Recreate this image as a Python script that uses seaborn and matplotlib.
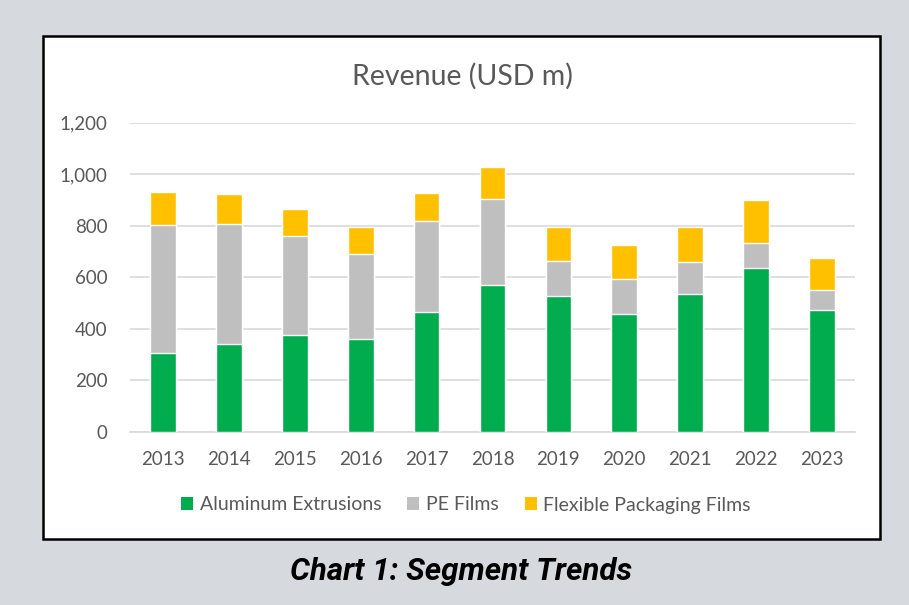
import numpy as np
import pandas as pd
import matplotlib.pyplot as plt
import seaborn as sns
from matplotlib.patches import Rectangle, Patch

# ---------------------------------------------------------
# DATA (USD m)
# ---------------------------------------------------------
years = ["2013", "2014", "2015", "2016", "2017", "2018",
         "2019", "2020", "2021", "2022", "2023"]
aluminum = [308, 341, 376, 359, 467, 572, 529, 456, 537, 636, 472]
pe_films = [495, 467, 383, 331, 351, 331, 133, 136, 124, 98, 79]
flex_films = [129, 115, 107, 107, 110, 124, 135, 135, 136, 165, 124]

series_names = ["Aluminum Extrusions", "PE Films", "Flexible Packaging Films"]
colors = ["#00ac4e", "#bfbfbf", "#ffc000"]
yticks = [0, 200, 400, 600, 800, 1000, 1200]

df = pd.DataFrame({
    "year": years,
    "aluminum": aluminum,
    "pe": pe_films,
    "flex": flex_films,
})
# cumulative heights for stacking (draw back to front)
df["lvl1"] = df["aluminum"]
df["lvl2"] = df["aluminum"] + df["pe"]
df["lvl3"] = df["lvl2"] + df["flex"]

sns.set_theme(style="white")
plt.rcParams["font.family"] = ["Lato", "DejaVu Sans"]

fig = plt.figure(figsize=(9.09, 6.05), dpi=100)
fig.patch.set_facecolor("#d6d9de")

# white card with black frame
fig.patches.append(Rectangle((43 / 909, 1 - 539 / 605), (880 - 43) / 909, (539 - 35.5) / 605,
                             transform=fig.transFigure, facecolor="white",
                             edgecolor="black", linewidth=1.8, zorder=-10))

ax = fig.add_axes([130 / 909, 1 - 432 / 605, (855 - 130) / 909, (432 - 122.7) / 605])
ax.set_facecolor("none")

for col, c in zip(["lvl3", "lvl2", "lvl1"], colors[::-1]):
    sns.barplot(data=df, x="year", y=col, color=c, width=0.39,
                saturation=1, ax=ax, zorder=3)

ax.set_ylim(0, 1200)
ax.set_xlim(-0.5, len(years) - 0.5)
ax.set_yticks(yticks)
ax.set_yticklabels([f"{v:,}" for v in yticks])
ax.yaxis.grid(True, color="#d9d9d9", linewidth=1.2, zorder=0)
ax.set_axisbelow(True)
for s in ["top", "right", "left"]:
    ax.spines[s].set_visible(False)
ax.spines["bottom"].set_color("#d9d9d9")
ax.spines["bottom"].set_linewidth(1.2)
ax.tick_params(axis="both", length=0, labelsize=13.5, labelcolor="#595959")
ax.tick_params(axis="y", pad=16)
ax.tick_params(axis="x", pad=14)
ax.set_xlabel("")
ax.set_ylabel("")

fig.text(462 / 909, 1 - 76 / 605, "Revenue (USD m)", ha="center", va="center",
         fontsize=20.5, color="#595959")

handles = [Patch(facecolor=c, edgecolor="none") for c in colors]
fig.legend(handles, series_names, loc="center", bbox_to_anchor=(466 / 909, 1 - 505 / 605),
           ncol=3, frameon=False, fontsize=14, labelcolor="#595959",
           handlelength=0.6, handleheight=0.6, handletextpad=0.35, columnspacing=1.35)

fig.text(461 / 909, 1 - 572 / 605, "Chart 1: Segment Trends", ha="center", va="center",
         fontsize=22.5, fontweight="bold", fontstyle="italic", family=["Roboto", "DejaVu Sans"],
         color="black")

plt.savefig("out.png", dpi=100, facecolor=fig.get_facecolor())
